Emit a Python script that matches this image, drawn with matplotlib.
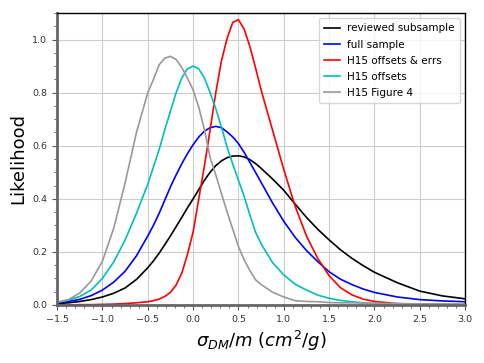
import matplotlib
matplotlib.use("Agg")
import matplotlib.pyplot as plt
from matplotlib.ticker import MultipleLocator

x = [-1.5, -1.375, -1.25, -1.125, -1.0, -0.875, -0.75, -0.625, -0.5, -0.4375,
     -0.375, -0.3125, -0.25, -0.1875, -0.125, -0.0625, 0.0, 0.0625, 0.125, 0.1875,
     0.25, 0.3125, 0.375, 0.4375, 0.5, 0.5625, 0.625, 0.6875, 0.75, 0.875,
     1.0, 1.125, 1.25, 1.375, 1.5, 1.625, 1.75, 1.875, 2.0, 2.25,
     2.5, 2.75, 3.0]

reviewed = [0.005, 0.008, 0.013, 0.02, 0.03, 0.044, 0.064, 0.096, 0.14, 0.166,
            0.195, 0.227, 0.26, 0.295, 0.33, 0.366, 0.40, 0.435, 0.47, 0.50,
            0.525, 0.543, 0.555, 0.561, 0.562, 0.558, 0.548, 0.533, 0.515, 0.475,
            0.432, 0.38, 0.33, 0.285, 0.245, 0.208, 0.176, 0.148, 0.123, 0.084,
            0.052, 0.034, 0.023]

full = [0.008, 0.013, 0.021, 0.035, 0.056, 0.086, 0.127, 0.185, 0.26, 0.30,
        0.345, 0.395, 0.445, 0.49, 0.532, 0.57, 0.604, 0.633, 0.655, 0.668,
        0.673, 0.668, 0.652, 0.633, 0.608, 0.575, 0.538, 0.50, 0.462, 0.385,
        0.315, 0.255, 0.205, 0.163, 0.125, 0.097, 0.077, 0.06, 0.047, 0.03,
        0.02, 0.015, 0.012]

h15_errs = [0.0, 0.0, 0.001, 0.001, 0.002, 0.003, 0.005, 0.008, 0.012, 0.016,
            0.022, 0.032, 0.047, 0.075, 0.12, 0.19, 0.275, 0.40, 0.525, 0.66,
            0.80, 0.92, 1.005, 1.065, 1.075, 1.04, 0.975, 0.895, 0.81, 0.66,
            0.51, 0.372, 0.26, 0.175, 0.11, 0.065, 0.038, 0.022, 0.013, 0.005,
            0.002, 0.001, 0.001]

h15_offsets = [0.01, 0.018, 0.032, 0.056, 0.10, 0.162, 0.245, 0.345, 0.455, 0.52,
               0.585, 0.66, 0.73, 0.80, 0.855, 0.89, 0.90, 0.89, 0.855, 0.80,
               0.74, 0.67, 0.595, 0.53, 0.47, 0.41, 0.34, 0.275, 0.23, 0.16,
               0.113, 0.078, 0.056, 0.037, 0.025, 0.017, 0.012, 0.008, 0.005, 0.003,
               0.002, 0.001, 0.001]

h15_fig4 = [0.01, 0.02, 0.045, 0.09, 0.165, 0.29, 0.46, 0.65, 0.80, 0.85,
            0.905, 0.93, 0.937, 0.925, 0.895, 0.855, 0.81, 0.745, 0.66, 0.555,
            0.49, 0.42, 0.35, 0.285, 0.22, 0.17, 0.13, 0.095, 0.077, 0.048,
            0.03, 0.016, 0.013, 0.012, 0.009, 0.008, 0.008, 0.007, 0.006, 0.005,
            0.004, 0.004, 0.003]

labels = ["reviewed subsample", "full sample", "H15 offsets & errs",
          "H15 offsets", "H15 Figure 4"]
colors = ["k", "b", "r", "c", "#999999"]

fig = plt.figure(figsize=(4.84, 3.63), dpi=100)
ax = fig.add_axes([0.118, 0.160, 0.843, 0.804])

for ys, lab, col in zip([reviewed, full, h15_errs, h15_offsets, h15_fig4], labels, colors):
    ax.plot(x, ys, color=col, lw=1.2, label=lab)

ax.set_xlim(-1.5, 3.0)
ax.set_ylim(0, 1.1)
ax.xaxis.set_major_locator(MultipleLocator(0.5))
ax.xaxis.set_minor_locator(MultipleLocator(0.1))
ax.yaxis.set_major_locator(MultipleLocator(0.2))
ax.yaxis.set_minor_locator(MultipleLocator(0.05))
ax.grid(True, which="major", color="#cccccc", lw=0.8)
ax.set_axisbelow(True)
ax.tick_params(labelsize=6.8, colors="#333333")
ax.tick_params(which="both", color="#555555")

for s in ["left", "bottom"]:
    ax.spines[s].set_color("#666666")
    ax.spines[s].set_linewidth(2)
for s in ["top", "right"]:
    ax.spines[s].set_color("black")
    ax.spines[s].set_linewidth(1)

ax.set_ylabel("Likelihood", fontsize=13)
ax.set_xlabel(r"$\sigma_{DM}/m\ (cm^2/g)$", fontsize=13)

ax.legend(loc="upper right", fontsize=7.5, handlelength=1.6, handletextpad=0.65,
          labelspacing=0.58, borderpad=0.5, borderaxespad=0.5)

fig.savefig("out.png", dpi=100)
